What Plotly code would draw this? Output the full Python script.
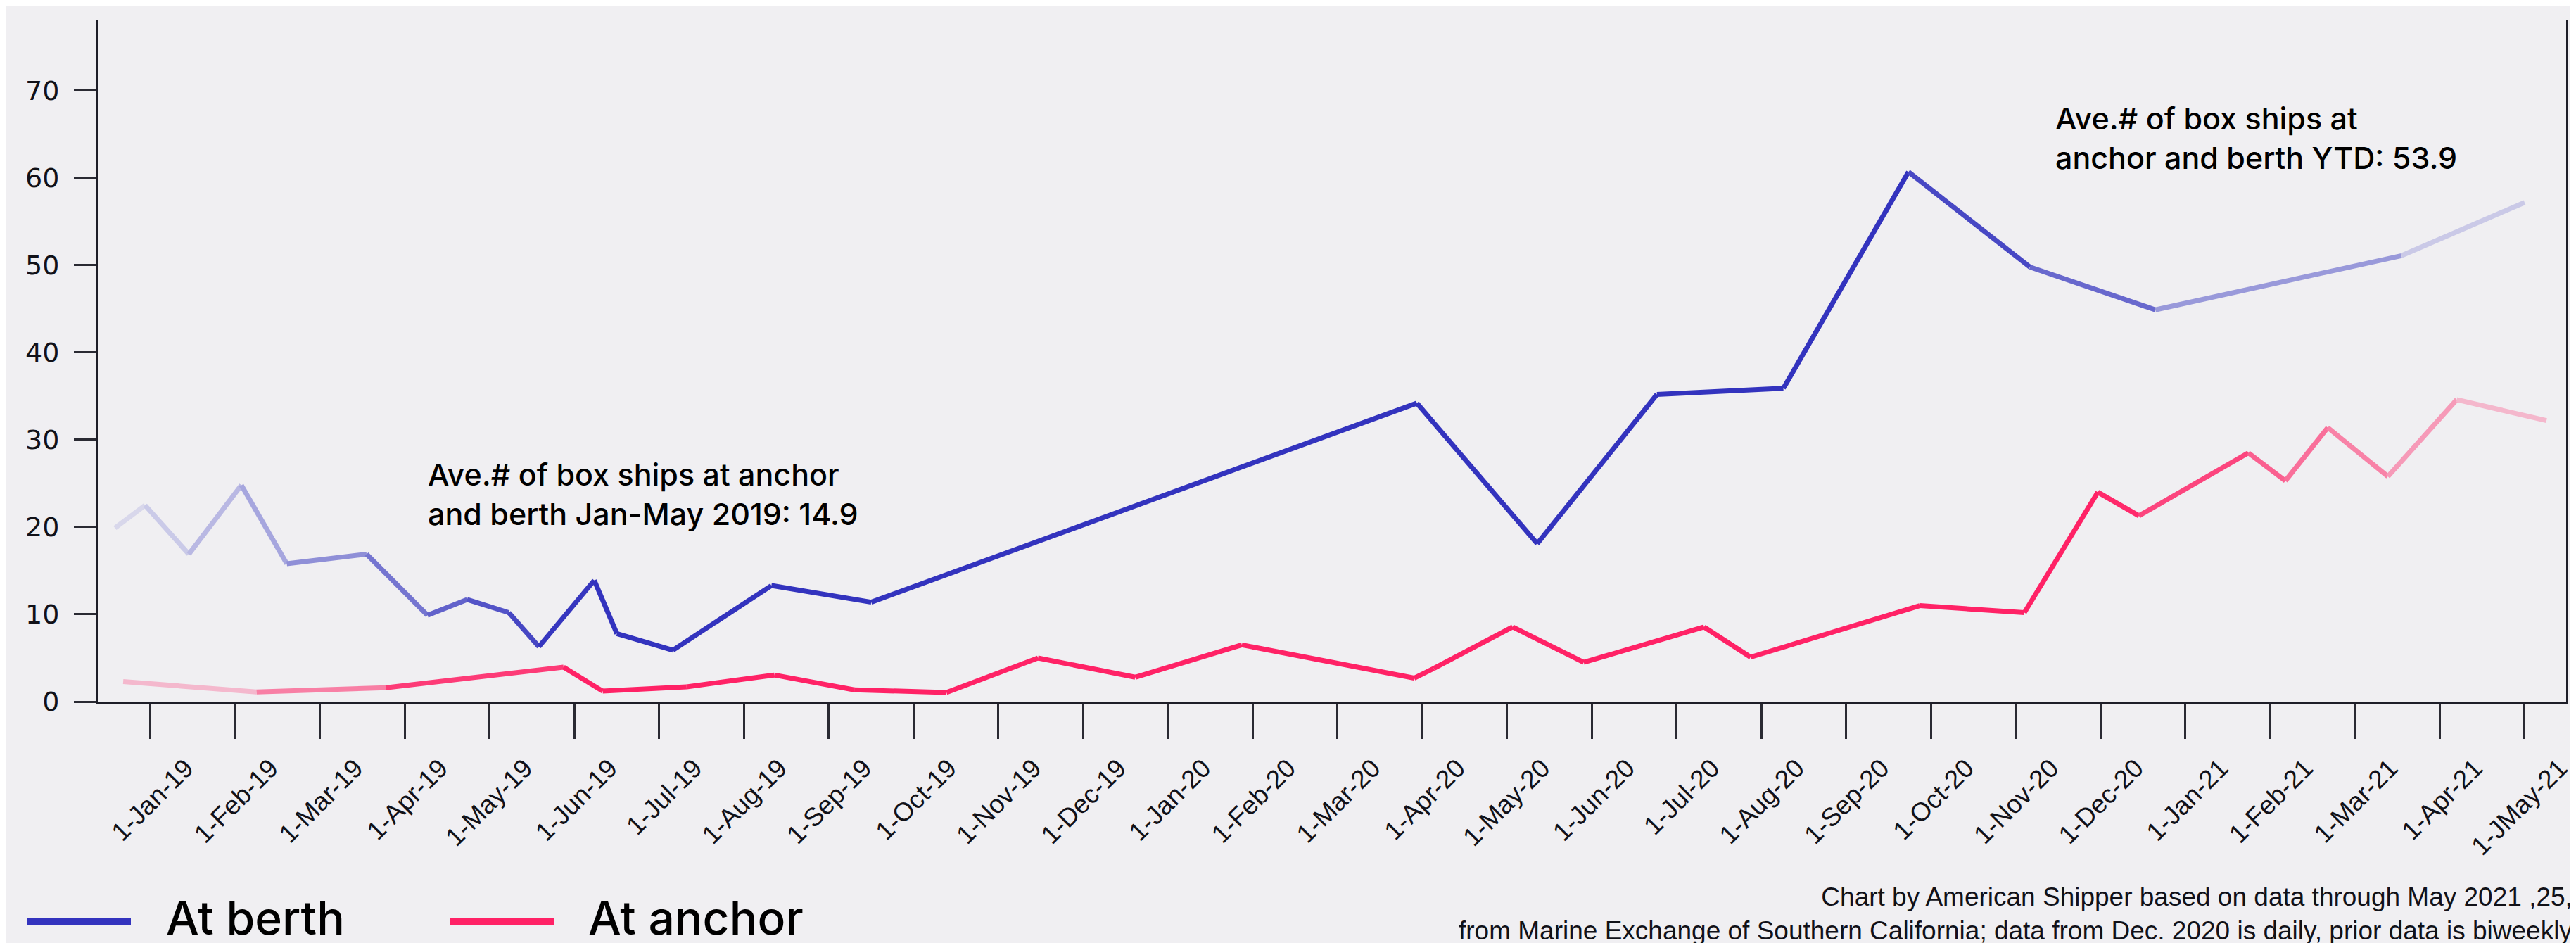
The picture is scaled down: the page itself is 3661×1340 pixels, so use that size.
import calendar
import plotly.graph_objects as go

# ---------------- data ----------------
tick_labels = [
    "1-Jan-19", "1-Feb-19", "1-Mar-19", "1-Apr-19", "1-May-19", "1-Jun-19",
    "1-Jul-19", "1-Aug-19", "1-Sep-19", "1-Oct-19", "1-Nov-19", "1-Dec-19",
    "1-Jan-20", "1-Feb-20", "1-Mar-20", "1-Apr-20", "1-May-20", "1-Jun-20",
    "1-Jul-20", "1-Aug-20", "1-Sep-20", "1-Oct-20", "1-Nov-20", "1-Dec-20",
    "1-Jan-21", "1-Feb-21", "1-Mar-21", "1-Apr-21", "1-JMay-21",
]
y_ticks = [0, 10, 20, 30, 40, 50, 60, 70]

berth_dates = [
    "2018-12-19", "2018-12-30", "2019-01-15", "2019-02-03", "2019-02-18",
    "2019-03-18", "2019-04-09", "2019-04-23", "2019-05-08", "2019-05-19",
    "2019-06-08", "2019-06-16", "2019-07-06", "2019-08-11", "2019-09-16",
    "2020-03-30", "2020-05-12", "2020-06-24", "2020-08-09", "2020-09-23",
    "2020-11-06", "2020-12-21", "2021-03-18", "2021-05-01",
]
berth_vals = [
    19.9, 22.5, 16.9, 24.8, 15.8, 16.9, 9.9, 11.7, 10.2, 6.3,
    13.9, 7.8, 5.9, 13.3, 11.4, 34.2, 18.1, 35.2, 35.9, 60.7,
    49.8, 44.9, 51.1, 57.2,
]

anchor_dates = [
    "2018-12-22", "2019-02-08", "2019-03-25", "2019-05-28", "2019-06-11",
    "2019-07-11", "2019-08-12", "2019-09-10", "2019-10-13", "2019-11-15",
    "2019-12-20", "2020-01-28", "2020-03-29", "2020-04-05", "2020-05-03",
    "2020-05-29", "2020-07-11", "2020-07-28", "2020-09-27", "2020-11-04",
    "2020-11-30", "2020-12-15", "2021-01-24", "2021-02-06", "2021-02-20",
    "2021-03-13", "2021-04-07", "2021-05-09",
]
anchor_vals = [
    2.3, 1.1, 1.6, 3.95, 1.2, 1.7, 3.05, 1.35, 1.05, 5.0,
    2.8, 6.5, 2.7, 3.8, 8.55, 4.5, 8.55, 5.1, 11.0, 10.2,
    24.0, 21.3, 28.5, 25.3, 31.4, 25.8, 34.6, 32.2,
]

# ---------------- styling ----------------
BG = "#F0EFF2"
BERTH = (51, 51, 190)
ANCHOR = (255, 34, 102)
BG_RGB = (240, 239, 242)


def month_pos(s):
    """Position on the month axis (one unit per month, 0 = 1-Jan-19)."""
    y, m, d = map(int, s.split("-"))
    return (y - 2019) * 12 + (m - 1) + (d - 1) / calendar.monthrange(y, m)[1]


def blend(rgb, a):
    r = [round(BG_RGB[k] + (rgb[k] - BG_RGB[k]) * a) for k in range(3)]
    return f"rgb({r[0]},{r[1]},{r[2]})"


def fade(m, a0, a1, b0, b1):
    fin = min(1.0, max(0.07, (m - a0) / (a1 - a0)))
    fout = min(1.0, max(0.07, (b1 - m) / (b1 - b0)))
    return fin * fout


fig = go.Figure()


def add_series(dates, vals, rgb, params):
    xs = [month_pos(d) for d in dates]
    for k in range(len(xs) - 1):
        mid = (xs[k] + xs[k + 1]) / 2
        a = fade(mid, *params)
        fig.add_trace(go.Scatter(
            x=[xs[k], xs[k + 1]], y=[vals[k], vals[k + 1]],
            mode="lines", line=dict(color=blend(rgb, a), width=7),
            showlegend=False, hoverinfo="skip",
        ))


add_series(berth_dates, berth_vals, BERTH, (-1.0, 5.0, 20.5, 29.0))
add_series(anchor_dates, anchor_vals, ANCHOR, (-1.0, 4.5, 23.0, 29.5))

# ---------------- layout ----------------
L, R, T, B = 131, 22, 21, 351
W, H = 3661, 1340
PW, PH = W - L - R, H - T - B


def px_x(px):
    return (px - L) / PW


def px_y(py):
    return (H - B - py) / PH


fig.update_layout(
    width=W, height=H,
    margin=dict(l=L, r=R, t=T, b=B, autoexpand=False),
    paper_bgcolor=BG, plot_bgcolor=BG,
    showlegend=False,
    xaxis=dict(
        range=[-0.622, 28.49],
        tickvals=list(range(len(tick_labels))),
        ticktext=tick_labels,
        tickangle=-45,
        ticks="outside", ticklen=50, tickwidth=3, tickcolor="#2a2a33",
        ticklabelshift=50, ticklabelstandoff=5,
        tickfont=dict(family="Liberation Sans, Arial, sans-serif", size=37, color="#111118"),
        showgrid=False, zeroline=False, automargin=False,
        showline=True, linewidth=3, linecolor="#1e1e28",
    ),
    yaxis=dict(
        range=[0, 78.06],
        tickvals=y_ticks,
        ticks="outside", ticklen=31, tickwidth=3, tickcolor="#2a2a33",
        ticklabelstandoff=13,
        tickfont=dict(family="DejaVu Sans, sans-serif", size=38, color="#111118"),
        showgrid=False, zeroline=False, automargin=False,
        showline=True, mirror=True, linewidth=3, linecolor="#1e1e28",
    ),
)

ann_font = dict(family="Inter, Liberation Sans, sans-serif", size=43, color="#000000", weight=500)
fig.add_annotation(
    xref="paper", yref="paper", x=px_x(598), y=px_y(694),
    xanchor="left", yanchor="middle", align="left", showarrow=False,
    text="Ave.# of box ships at anchor<br>and berth Jan-May 2019: 14.9", font=ann_font,
)
fig.add_annotation(
    xref="paper", yref="paper", x=px_x(2911), y=px_y(188),
    xanchor="left", yanchor="middle", align="left", showarrow=False,
    text="Ave.# of box ships at<br>anchor and berth YTD: 53.9", font=ann_font,
)

# legend (drawn manually to match the wide swatches)
leg_font = dict(family="Inter, Liberation Sans, sans-serif", size=66, color="#000000", weight=500)
for (x0, x1, tx, label, rgb) in [(31, 178, 226, "At berth", BERTH), (632, 779, 826, "At anchor", ANCHOR)]:
    fig.add_shape(type="line", xref="paper", yref="paper",
                  x0=px_x(x0), x1=px_x(x1), y0=px_y(1301), y1=px_y(1301),
                  line=dict(color=blend(rgb, 1.0), width=10))
    fig.add_annotation(xref="paper", yref="paper", x=px_x(tx), y=px_y(1296),
                       xanchor="left", yanchor="middle", showarrow=False,
                       text=label, font=leg_font)

foot_font = dict(family="Liberation Sans, Arial, sans-serif", size=37, color="#111118")
fig.add_annotation(
    xref="paper", yref="paper", x=px_x(3650), y=px_y(1290),
    xanchor="right", yanchor="middle", align="right", showarrow=False,
    text="Chart by American Shipper based on data through May 2021 ,25,<br>"
         "from Marine Exchange of Southern California; data from Dec. 2020 is daily, prior data is biweekly",
    font=foot_font,
)

fig.write_html("out.html")
